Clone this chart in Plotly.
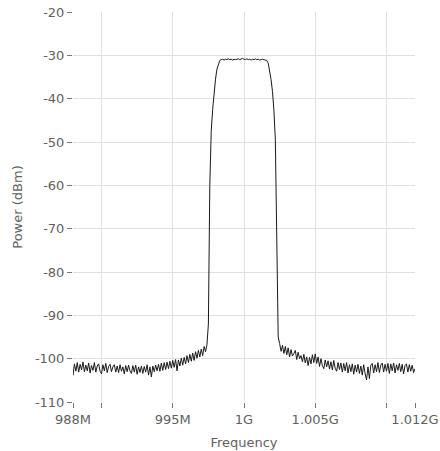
import plotly.graph_objects as go

# sweep: 988 MHz to 1012 MHz, 0.1 MHz per point
freq_start = 988.0
freq_step = 0.1

left_floor = [
    -103.9, -101.2, -102.9, -100.9, -103.1, -101.3, -102.6, -100.8, -103.0, -101.5,
    -102.8, -101.0, -103.3, -101.6, -102.7, -100.9, -103.1, -101.7, -101.2, -102.9,
    -103.5, -101.4, -102.8, -101.1, -103.2, -101.8, -101.3, -103.0, -101.9, -101.4,
    -103.1, -101.7, -103.2, -101.4, -102.9, -101.9, -103.5, -101.6, -103.0, -101.5,
    -102.8, -103.4, -101.6, -103.1, -101.5, -103.6, -101.9, -103.2, -101.7, -103.4,
    -101.8, -103.1, -101.4, -103.8, -101.9, -104.2, -101.7, -103.0, -101.5, -102.8,
    -101.3, -102.9, -101.0, -102.7, -100.9, -102.5, -100.8, -102.3, -100.6, -102.2,
    -100.4, -102.0, -100.2, -102.8, -100.3, -101.7, -99.9, -101.5, -99.7, -101.2,
    -99.3, -100.9, -99.0, -100.6, -98.7, -100.4, -98.4, -99.9, -98.1, -99.6,
    -97.8, -99.3, -97.2, -98.4, -96.8,
]
left_edge = [-92.0, -60.0, -47.5, -42.5, -38.5, -35.5, -33.2, -31.9, -31.2]
passband = [
    -31.0, -30.9, -31.1, -30.9, -31.0, -30.8, -31.0, -30.9, -31.1, -30.9,
    -31.0, -30.9, -30.8, -31.0, -30.9, -30.7, -30.9, -31.0, -30.8, -31.0,
    -30.9, -31.1, -30.9, -31.0, -30.8, -31.0, -30.9, -31.1, -31.0, -30.9,
    -31.0, -31.1, -31.2,
]
right_edge = [-31.8, -33.4, -35.6, -38.4, -42.8, -49.5, -74.0, -95.0]
right_floor = [
    -96.5, -98.3, -96.9, -98.8, -97.2, -99.1,
    -97.5, -99.6, -97.9, -99.4, -98.8, -98.1, -100.2, -98.5, -100.0,
    -99.3, -100.7, -99.0, -101.0, -99.6, -101.6, -99.7, -101.2, -99.1, -100.9,
    -98.9, -101.1, -99.6, -101.8, -100.0, -101.6, -102.3, -100.3, -101.9, -100.5,
    -102.4, -100.7, -102.6, -100.4, -102.2, -102.9, -100.9, -102.5, -101.0, -103.1,
    -101.1, -102.8, -100.9, -103.3, -101.4, -103.0, -101.2, -103.6, -101.5, -103.1,
    -101.3, -103.4, -101.7, -103.8, -101.4, -103.5, -104.9, -101.9, -104.6, -101.5,
    -101.1, -103.3, -101.4, -103.0, -100.9, -103.2, -101.5, -101.0, -103.1, -101.3,
    -102.9, -101.1, -103.4, -101.2, -102.8, -101.0, -103.3, -101.4, -102.7, -101.1,
    -103.0, -101.3, -103.5, -101.6, -101.2, -103.1, -101.4, -102.9, -101.5, -103.2,
    -102.3,
]
power = left_floor + left_edge + passband + right_edge + right_floor

x_ticks = [988, 990, 995, 1000, 1005, 1010, 1012]
x_labels = ["988M", "", "995M", "1G", "1.005G", "", "1.012G"]
y_ticks = [-20, -30, -40, -50, -60, -70, -80, -90, -100, -110]
y_labels = ["-20", "-30", "-40", "-50", "-60", "-70", "-80", "-90", "-100", "-110"]

fig = go.Figure()
fig.add_trace(go.Scatter(x0=freq_start, dx=freq_step, y=power, mode="lines",
                         line=dict(color="#1a1a1a", width=1), showlegend=False))

font = dict(family="DejaVu Sans", size=13, color="#5f5f5f")
fig.update_layout(
    width=440, height=451,
    margin=dict(l=73, r=25, t=12, b=49),
    plot_bgcolor="white", paper_bgcolor="white",
    font=font,
)
fig.update_xaxes(range=[988, 1012], tickvals=x_ticks, ticktext=x_labels,
                 ticks="outside", ticklen=5, tickcolor="#777777",
                 showgrid=True, gridcolor="#e0e0e0", zeroline=False,
                 automargin=False,
                 title=dict(text="Frequency", font=font, standoff=12))
fig.update_yaxes(range=[-110, -20], tickvals=y_ticks, ticktext=y_labels,
                 ticks="outside", ticklen=5, tickcolor="#777777",
                 showgrid=True, gridcolor="#e0e0e0", zeroline=False,
                 automargin=False,
                 title=dict(text="Power (dBm)", font=font, standoff=9))

# drop the page's default body margin so the figure fills the window
fig.write_html("out.html", config={"displayModeBar": False},
               post_script="document.body.style.margin='0';"
                           "document.body.style.overflow='hidden';")
